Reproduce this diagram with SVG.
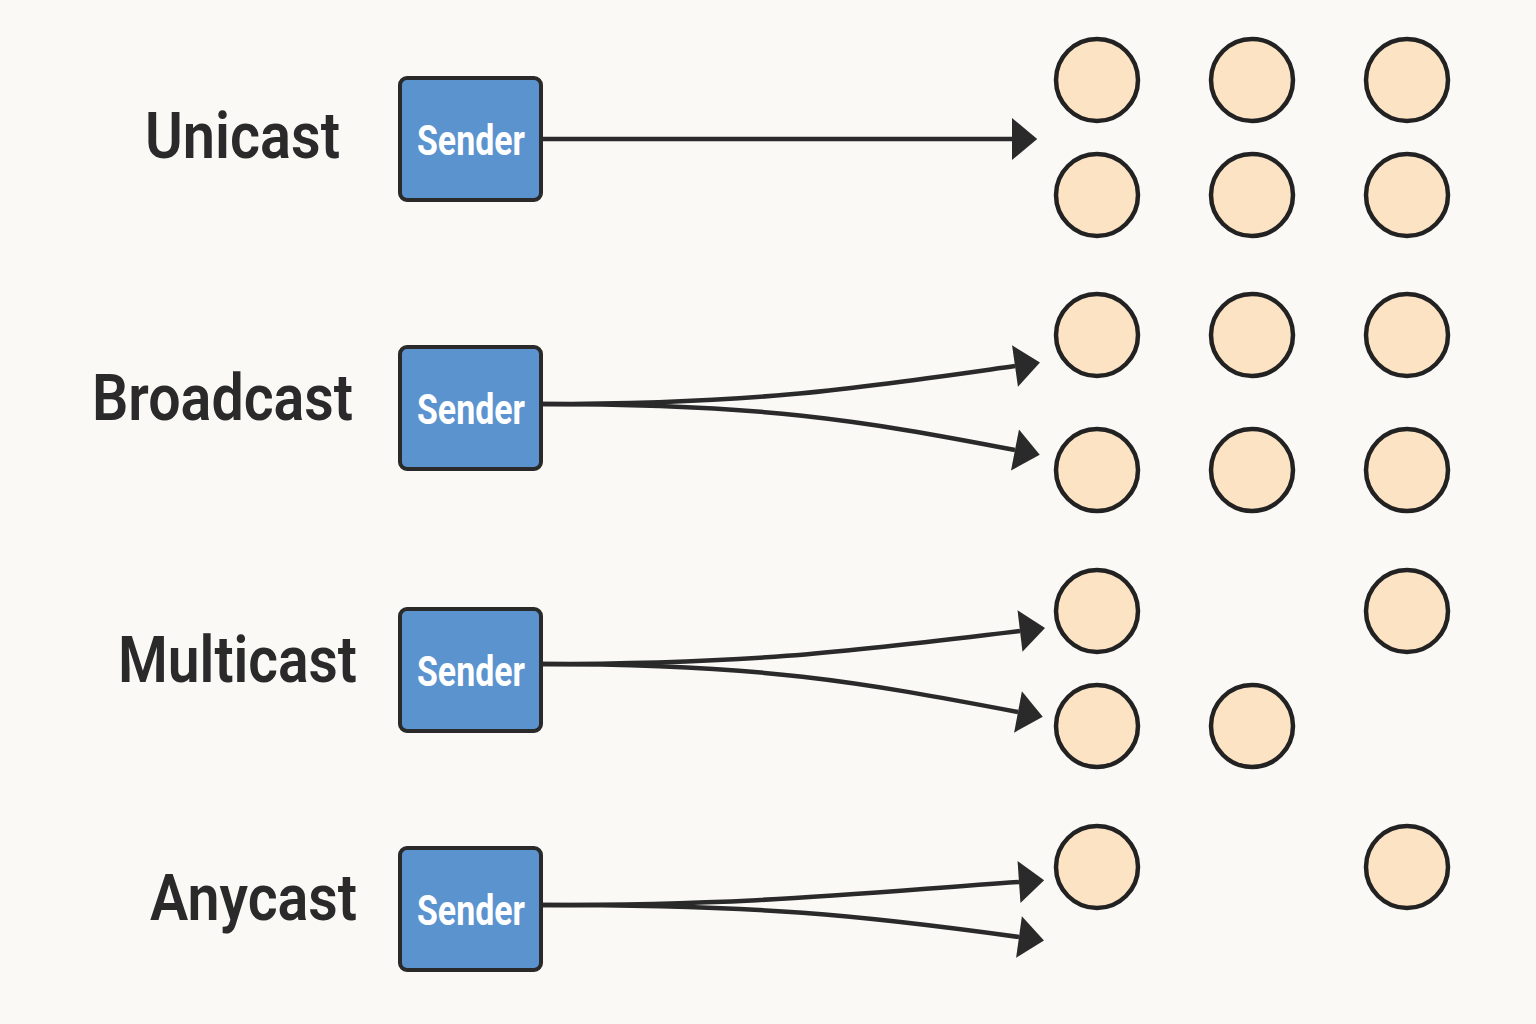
<svg xmlns="http://www.w3.org/2000/svg" width="1536" height="1024" viewBox="0 0 1536 1024">
<style>
.bg{fill:#faf9f6}
.lbl{font-family:Roboto,"Liberation Sans",sans-serif;font-weight:600;font-size:64px;fill:#2a2a2a}
.box{fill:#5b93cf;stroke:#2a2a2a;stroke-width:4}
.stxt{font-family:Roboto,"Liberation Sans",sans-serif;font-weight:700;font-size:43px;fill:#ffffff}
.node{fill:#fbe3c4;stroke:#222222;stroke-width:4.5}
.edge{fill:none;stroke:#2a2a2a;stroke-width:4.5}
</style>
<defs>
<marker id="ah" markerUnits="userSpaceOnUse" markerWidth="26" markerHeight="42" viewBox="0 0 24 40" refX="0" refY="20" orient="auto">
<path d="M0,0 L24,20 L0,40 Z" fill="#2a2a2a"/>
</marker>
</defs>
<rect class="bg" x="0" y="0" width="1536" height="1024"/>
<g id="labels">
<text class="lbl" x="145" y="158" textLength="195" lengthAdjust="spacingAndGlyphs">Unicast</text>
<text class="lbl" x="92" y="420" textLength="261" lengthAdjust="spacingAndGlyphs">Broadcast</text>
<text class="lbl" x="118" y="682" textLength="239" lengthAdjust="spacingAndGlyphs">Multicast</text>
<text class="lbl" x="150" y="920" textLength="207" lengthAdjust="spacingAndGlyphs">Anycast</text>
</g>
<g id="sender-unicast">
<rect class="box" x="400" y="78" width="141" height="122" rx="7"/>
<text class="stxt" x="417" y="155" textLength="108" lengthAdjust="spacingAndGlyphs">Sender</text>
</g>
<g id="sender-broadcast">
<rect class="box" x="400" y="347" width="141" height="122" rx="7"/>
<text class="stxt" x="417" y="424" textLength="108" lengthAdjust="spacingAndGlyphs">Sender</text>
</g>
<g id="sender-multicast">
<rect class="box" x="400" y="609" width="141" height="122" rx="7"/>
<text class="stxt" x="417" y="686" textLength="108" lengthAdjust="spacingAndGlyphs">Sender</text>
</g>
<g id="sender-anycast">
<rect class="box" x="400" y="848" width="141" height="122" rx="7"/>
<text class="stxt" x="417" y="925" textLength="108" lengthAdjust="spacingAndGlyphs">Sender</text>
</g>
<g id="nodes">
<g id="u1"><circle class="node" cx="1097" cy="80" r="41"/></g>
<g id="u2"><circle class="node" cx="1252" cy="80" r="41"/></g>
<g id="u3"><circle class="node" cx="1407" cy="80" r="41"/></g>
<g id="u4"><circle class="node" cx="1097" cy="195" r="41"/></g>
<g id="u5"><circle class="node" cx="1252" cy="195" r="41"/></g>
<g id="u6"><circle class="node" cx="1407" cy="195" r="41"/></g>
<g id="b1"><circle class="node" cx="1097" cy="335" r="41"/></g>
<g id="b2"><circle class="node" cx="1252" cy="335" r="41"/></g>
<g id="b3"><circle class="node" cx="1407" cy="335" r="41"/></g>
<g id="b4"><circle class="node" cx="1097" cy="470" r="41"/></g>
<g id="b5"><circle class="node" cx="1252" cy="470" r="41"/></g>
<g id="b6"><circle class="node" cx="1407" cy="470" r="41"/></g>
<g id="m1"><circle class="node" cx="1097" cy="611" r="41"/></g>
<g id="m2"><circle class="node" cx="1407" cy="611" r="41"/></g>
<g id="m3"><circle class="node" cx="1097" cy="726" r="41"/></g>
<g id="m4"><circle class="node" cx="1252" cy="726" r="41"/></g>
<g id="a1"><circle class="node" cx="1097" cy="867" r="41"/></g>
<g id="a2"><circle class="node" cx="1407" cy="867" r="41"/></g>
</g>
<g id="connectors">
<path class="edge" d="M541,139 L1012,139" marker-end="url(#ah)"/>
<path class="edge" d="M541,404 C760,404 860,388 1015,366" marker-end="url(#ah)"/>
<path class="edge" d="M541,404 C760,404 860,420 1015,450" marker-end="url(#ah)"/>
<path class="edge" d="M541,664 C760,664 860,650 1020,631" marker-end="url(#ah)"/>
<path class="edge" d="M541,664 C760,664 860,682 1018,712" marker-end="url(#ah)"/>
<path class="edge" d="M541,905 C760,905 860,893 1019,882" marker-end="url(#ah)"/>
<path class="edge" d="M541,905 C760,905 860,915 1019,937" marker-end="url(#ah)"/>
</g>
</svg>
